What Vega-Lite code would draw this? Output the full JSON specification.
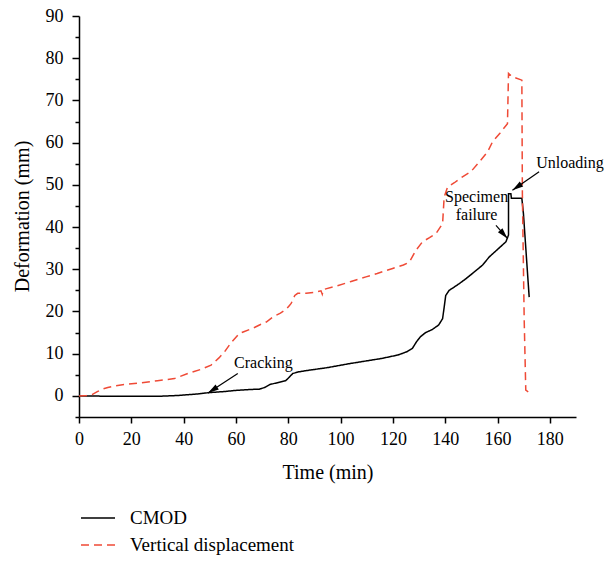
{
  "$schema": "https://vega.github.io/schema/vega-lite/v6.json",
  "width": 497,
  "height": 401,
  "autosize": {"type": "none"},
  "padding": {"left": 79, "top": 16, "right": 36, "bottom": 144},
  "config": {
    "view": {"stroke": null},
    "font": "Liberation Serif",
    "axis": {
      "grid": false,
      "domainColor": "#000000",
      "domainWidth": 1.5,
      "tickColor": "#000000",
      "tickWidth": 1.5,
      "labelColor": "#000000",
      "titleColor": "#000000",
      "labelFont": "Liberation Serif",
      "titleFont": "Liberation Serif",
      "labelFontSize": 18,
      "titleFontSize": 20,
      "titleFontWeight": "normal"
    },
    "legend": {
      "labelFont": "Liberation Serif",
      "labelFontSize": 19,
      "labelColor": "#000000",
      "labelLimit": 0
    }
  },
  "datasets": {
    "series": [
      {"series": "CMOD", "i": 1, "time": 0, "value": 0},
      {"series": "CMOD", "i": 2, "time": 5, "value": 0},
      {"series": "CMOD", "i": 3, "time": 10, "value": -0.1},
      {"series": "CMOD", "i": 4, "time": 20, "value": -0.1},
      {"series": "CMOD", "i": 5, "time": 30, "value": -0.1},
      {"series": "CMOD", "i": 6, "time": 38, "value": 0.1},
      {"series": "CMOD", "i": 7, "time": 42, "value": 0.3},
      {"series": "CMOD", "i": 8, "time": 46, "value": 0.5},
      {"series": "CMOD", "i": 9, "time": 50, "value": 0.8},
      {"series": "CMOD", "i": 10, "time": 55, "value": 1.0},
      {"series": "CMOD", "i": 11, "time": 60, "value": 1.3},
      {"series": "CMOD", "i": 12, "time": 65, "value": 1.5},
      {"series": "CMOD", "i": 13, "time": 69, "value": 1.6},
      {"series": "CMOD", "i": 14, "time": 71, "value": 2.0},
      {"series": "CMOD", "i": 15, "time": 73, "value": 2.7},
      {"series": "CMOD", "i": 16, "time": 75, "value": 3.0},
      {"series": "CMOD", "i": 17, "time": 79, "value": 3.6},
      {"series": "CMOD", "i": 18, "time": 80.5, "value": 4.5},
      {"series": "CMOD", "i": 19, "time": 81.7, "value": 5.3},
      {"series": "CMOD", "i": 20, "time": 84, "value": 5.7},
      {"series": "CMOD", "i": 21, "time": 87, "value": 6.0},
      {"series": "CMOD", "i": 22, "time": 95, "value": 6.7},
      {"series": "CMOD", "i": 23, "time": 103, "value": 7.6},
      {"series": "CMOD", "i": 24, "time": 110, "value": 8.3},
      {"series": "CMOD", "i": 25, "time": 116, "value": 8.9},
      {"series": "CMOD", "i": 26, "time": 122, "value": 9.7},
      {"series": "CMOD", "i": 27, "time": 125.5, "value": 10.5},
      {"series": "CMOD", "i": 28, "time": 127.5, "value": 11.3},
      {"series": "CMOD", "i": 29, "time": 129, "value": 12.8},
      {"series": "CMOD", "i": 30, "time": 130.5, "value": 14.0},
      {"series": "CMOD", "i": 31, "time": 132.5, "value": 15.0},
      {"series": "CMOD", "i": 32, "time": 135, "value": 15.7},
      {"series": "CMOD", "i": 33, "time": 137.5, "value": 16.8},
      {"series": "CMOD", "i": 34, "time": 139, "value": 18.3},
      {"series": "CMOD", "i": 35, "time": 139.6, "value": 21},
      {"series": "CMOD", "i": 36, "time": 140.2, "value": 23.8},
      {"series": "CMOD", "i": 37, "time": 141.5, "value": 25.0},
      {"series": "CMOD", "i": 38, "time": 143, "value": 25.6},
      {"series": "CMOD", "i": 39, "time": 145.4, "value": 26.6},
      {"series": "CMOD", "i": 40, "time": 148, "value": 27.8},
      {"series": "CMOD", "i": 41, "time": 150.4, "value": 29.0},
      {"series": "CMOD", "i": 42, "time": 154.3, "value": 31.0},
      {"series": "CMOD", "i": 43, "time": 156.8, "value": 32.9},
      {"series": "CMOD", "i": 44, "time": 160, "value": 34.7},
      {"series": "CMOD", "i": 45, "time": 163.2, "value": 36.5},
      {"series": "CMOD", "i": 46, "time": 164.2, "value": 38.1},
      {"series": "CMOD", "i": 47, "time": 164.2, "value": 47.9},
      {"series": "CMOD", "i": 48, "time": 165.1, "value": 47.9},
      {"series": "CMOD", "i": 49, "time": 165.3, "value": 46.8},
      {"series": "CMOD", "i": 50, "time": 169.3, "value": 46.8},
      {"series": "CMOD", "i": 51, "time": 169.9, "value": 43.2},
      {"series": "CMOD", "i": 52, "time": 172.1, "value": 23.4},
      {"series": "Vertical displacement", "i": 1, "time": 0, "value": 0},
      {"series": "Vertical displacement", "i": 2, "time": 3, "value": 0.1},
      {"series": "Vertical displacement", "i": 3, "time": 5, "value": 0.3},
      {"series": "Vertical displacement", "i": 4, "time": 7, "value": 1.0},
      {"series": "Vertical displacement", "i": 5, "time": 9, "value": 1.6},
      {"series": "Vertical displacement", "i": 6, "time": 11, "value": 2.0},
      {"series": "Vertical displacement", "i": 7, "time": 14, "value": 2.4},
      {"series": "Vertical displacement", "i": 8, "time": 17.5, "value": 2.7},
      {"series": "Vertical displacement", "i": 9, "time": 24, "value": 3.1},
      {"series": "Vertical displacement", "i": 10, "time": 30, "value": 3.6},
      {"series": "Vertical displacement", "i": 11, "time": 36.5, "value": 4.1},
      {"series": "Vertical displacement", "i": 12, "time": 41.6, "value": 5.3},
      {"series": "Vertical displacement", "i": 13, "time": 46.7, "value": 6.3},
      {"series": "Vertical displacement", "i": 14, "time": 50.5, "value": 7.3},
      {"series": "Vertical displacement", "i": 15, "time": 53.5, "value": 9.0},
      {"series": "Vertical displacement", "i": 16, "time": 55.6, "value": 10.4},
      {"series": "Vertical displacement", "i": 17, "time": 58, "value": 12.5},
      {"series": "Vertical displacement", "i": 18, "time": 61.3, "value": 14.8},
      {"series": "Vertical displacement", "i": 19, "time": 63, "value": 15.2},
      {"series": "Vertical displacement", "i": 20, "time": 66.4, "value": 16.0},
      {"series": "Vertical displacement", "i": 21, "time": 69, "value": 16.8},
      {"series": "Vertical displacement", "i": 22, "time": 71.6, "value": 17.5},
      {"series": "Vertical displacement", "i": 23, "time": 74.1, "value": 18.7},
      {"series": "Vertical displacement", "i": 24, "time": 77, "value": 19.6},
      {"series": "Vertical displacement", "i": 25, "time": 79.2, "value": 20.5},
      {"series": "Vertical displacement", "i": 26, "time": 80.3, "value": 21.3},
      {"series": "Vertical displacement", "i": 27, "time": 81.1, "value": 21.9},
      {"series": "Vertical displacement", "i": 28, "time": 82.5, "value": 23.8},
      {"series": "Vertical displacement", "i": 29, "time": 83.6, "value": 24.3},
      {"series": "Vertical displacement", "i": 30, "time": 86.8, "value": 24.3},
      {"series": "Vertical displacement", "i": 31, "time": 90, "value": 24.5},
      {"series": "Vertical displacement", "i": 32, "time": 92.5, "value": 24.9},
      {"series": "Vertical displacement", "i": 33, "time": 93, "value": 24.1},
      {"series": "Vertical displacement", "i": 34, "time": 93.4, "value": 25.2},
      {"series": "Vertical displacement", "i": 35, "time": 98.3, "value": 26.0},
      {"series": "Vertical displacement", "i": 36, "time": 104, "value": 27.1},
      {"series": "Vertical displacement", "i": 37, "time": 109.7, "value": 28.2},
      {"series": "Vertical displacement", "i": 38, "time": 114, "value": 29.0},
      {"series": "Vertical displacement", "i": 39, "time": 119.9, "value": 30.2},
      {"series": "Vertical displacement", "i": 40, "time": 124, "value": 31.0},
      {"series": "Vertical displacement", "i": 41, "time": 126.3, "value": 31.7},
      {"series": "Vertical displacement", "i": 42, "time": 128.8, "value": 34.5},
      {"series": "Vertical displacement", "i": 43, "time": 131.3, "value": 36.5},
      {"series": "Vertical displacement", "i": 44, "time": 134, "value": 37.5},
      {"series": "Vertical displacement", "i": 45, "time": 136.5, "value": 38.5},
      {"series": "Vertical displacement", "i": 46, "time": 139, "value": 40.8},
      {"series": "Vertical displacement", "i": 47, "time": 139.3, "value": 44},
      {"series": "Vertical displacement", "i": 48, "time": 139.6, "value": 47.1},
      {"series": "Vertical displacement", "i": 49, "time": 140.9, "value": 49.5},
      {"series": "Vertical displacement", "i": 50, "time": 143.5, "value": 50.5},
      {"series": "Vertical displacement", "i": 51, "time": 146.6, "value": 51.9},
      {"series": "Vertical displacement", "i": 52, "time": 149.8, "value": 53.1},
      {"series": "Vertical displacement", "i": 53, "time": 153, "value": 55.4},
      {"series": "Vertical displacement", "i": 54, "time": 156.2, "value": 57.8},
      {"series": "Vertical displacement", "i": 55, "time": 158.1, "value": 60.2},
      {"series": "Vertical displacement", "i": 56, "time": 161, "value": 62.3},
      {"series": "Vertical displacement", "i": 57, "time": 163.8, "value": 64.5},
      {"series": "Vertical displacement", "i": 58, "time": 164.2, "value": 76.4},
      {"series": "Vertical displacement", "i": 59, "time": 165.7, "value": 75.6},
      {"series": "Vertical displacement", "i": 60, "time": 169.3, "value": 74.8},
      {"series": "Vertical displacement", "i": 61, "time": 169.5, "value": 47.9},
      {"series": "Vertical displacement", "i": 62, "time": 170.2, "value": 17.9},
      {"series": "Vertical displacement", "i": 63, "time": 170.8, "value": 1.35},
      {"series": "Vertical displacement", "i": 64, "time": 171.8, "value": 0.95}
    ],
    "arrows": [
      {"label": "Cracking", "x1": 60.7, "y1": 5.3, "x2": 49.3, "y2": 0.7},
      {"label": "Specimen failure", "x1": 159.4, "y1": 40.4, "x2": 163.8, "y2": 37.3},
      {"label": "Unloading", "x1": 175.9, "y1": 53.1, "x2": 165.7, "y2": 48.7}
    ],
    "labels": [
      {"text": "Cracking", "x": 70.5, "y": 7.7},
      {"text": "Specimen\nfailure", "x": 152.0, "y": 47.1},
      {"text": "Unloading", "x": 187.7, "y": 55.2}
    ]
  },
  "resolve": {"axis": {"y": "independent"}},
  "layer": [
    {
      "data": {"name": "series"},
      "mark": {"type": "line", "strokeWidth": 1.5},
      "encoding": {
        "x": {
          "field": "time",
          "type": "quantitative",
          "scale": {"domain": [0, 190], "nice": false, "zero": false},
          "axis": {
            "title": "Time (min)",
            "values": [0, 10, 20, 30, 40, 50, 60, 70, 80, 90, 100, 110, 120, 130, 140, 150, 160, 170, 180, 190],
            "labelExpr": "datum.value % 20 === 0 && datum.value <= 180 ? datum.label : ''",
            "tickSize": {"condition": {"test": "datum.value % 20 === 0", "value": 6}, "value": 3},
            "labelPadding": 7,
            "labelFlush": false,
            "labelOverlap": false,
            "titlePadding": 14
          }
        },
        "y": {
          "field": "value",
          "type": "quantitative",
          "scale": {"domain": [-5, 90], "nice": false, "zero": false},
          "axis": {
            "orient": "left",
            "title": "Deformation (mm)",
            "values": [0, 10, 20, 30, 40, 50, 60, 70, 80, 90],
            "tickSize": 7,
            "labelPadding": 9,
            "labelFlush": false,
            "labelOverlap": false,
            "titleX": -57,
            "titleY": 200,
            "titleBaseline": "middle"
          }
        },
        "color": {
          "field": "series",
          "type": "nominal",
          "scale": {"domain": ["CMOD", "Vertical displacement"], "range": ["#000000", "#ef4a36"]},
          "legend": {
            "title": null,
            "orient": "none",
            "legendX": 1,
            "legendY": 492,
            "padding": 0,
            "symbolType": "stroke",
            "symbolSize": 1156,
            "symbolStrokeWidth": 1.5,
            "clipHeight": 20,
            "rowPadding": 7,
            "labelOffset": 14,
            "labelLimit": 0
          }
        },
        "strokeDash": {
          "field": "series",
          "type": "nominal",
          "scale": {"domain": ["CMOD", "Vertical displacement"], "range": [[1, 0], [8, 5]]},
          "legend": {
            "title": null,
            "orient": "none",
            "legendX": 1,
            "legendY": 492,
            "padding": 0,
            "symbolType": "stroke",
            "symbolSize": 1156,
            "symbolStrokeWidth": 1.5,
            "clipHeight": 20,
            "rowPadding": 7,
            "labelOffset": 14,
            "labelLimit": 0
          }
        },
        "order": {"field": "i", "type": "quantitative"}
      }
    },
    {
      "data": {"name": "arrows"},
      "mark": {"type": "rule", "color": "#000000", "strokeWidth": 1.2},
      "encoding": {
        "x": {"field": "x1", "type": "quantitative"},
        "y": {"field": "y1", "type": "quantitative", "axis": null},
        "x2": {"field": "x2"},
        "y2": {"field": "y2"}
      }
    },
    {
      "data": {"name": "arrows"},
      "transform": [
        {"calculate": "atan2((datum.x2 - datum.x1) * 2.617, (datum.y2 - datum.y1) * 4.221) * 180 / PI", "as": "ang"}
      ],
      "mark": {"type": "point", "shape": "M0,0L-0.6,2.2L0.6,2.2Z", "filled": true, "color": "#000000", "size": 100, "opacity": 1, "strokeWidth": 0},
      "encoding": {
        "x": {"field": "x2", "type": "quantitative"},
        "y": {"field": "y2", "type": "quantitative", "axis": null},
        "angle": {"field": "ang", "type": "quantitative", "scale": null}
      }
    },
    {
      "data": {"name": "labels"},
      "mark": {"type": "text", "font": "Liberation Serif", "fontSize": 16, "color": "#000000", "align": "center", "baseline": "middle", "lineBreak": "\n", "lineHeight": 18},
      "encoding": {
        "x": {"field": "x", "type": "quantitative"},
        "y": {
          "field": "y",
          "type": "quantitative",
          "axis": {
            "orient": "left",
            "values": [-5, 5, 15, 25, 35, 45, 55, 65, 75, 85],
            "tickSize": 4,
            "labels": false,
            "domain": false,
            "title": null
          }
        },
        "text": {"field": "text"}
      }
    }
  ]
}
